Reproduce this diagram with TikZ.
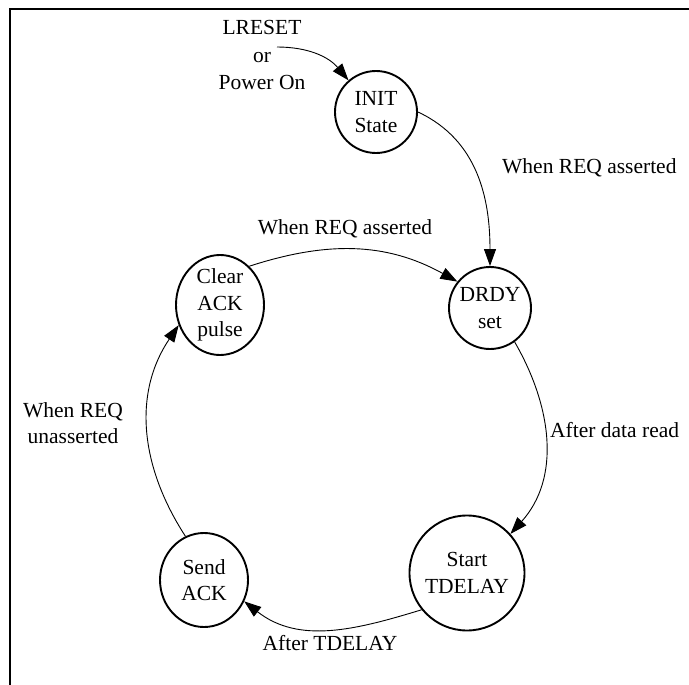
\documentclass[tikz,border=0pt]{standalone}
\usepackage{fontspec}
\setmainfont{Liberation Serif}
\usetikzlibrary{arrows.meta,shapes.geometric}
\begin{document}
\begin{tikzpicture}[x=1pt,y=1pt,
  font=\fontsize{21.5}{26.5}\selectfont,
  state/.style={draw,line width=1.9pt,inner sep=0pt,align=center},
  cstate/.style={state,circle},
  estate/.style={state,ellipse},
  edge/.style={line width=0.9pt,-{Triangle[length=17pt,width=12pt]}},
  lbl/.style={inner sep=0pt,align=center}]
\useasboundingbox (0,0) rectangle (689,-685);
\draw[line width=2.4pt,line join=miter] (10,-685) -- (10,-9) -- (689,-9);

\node[cstate,minimum size=82pt] (init) at (376,-112) {INIT\\State};
\node[cstate,minimum size=82pt] (drdy) at (490,-308) {DRDY\\set};
\node[estate,minimum width=88pt,minimum height=100pt,inner sep=-1pt] (clear) at (220,-305) {Clear\\ACK\\pulse};
\node[estate,minimum width=88pt,minimum height=94pt] (send) at (204,-580) {Send\\ACK};
\node[cstate,minimum size=115pt] (start) at (467,-573) {Start\\TDELAY};

\node[lbl,font=\fontsize{21.5}{27.5}\selectfont] (lrtext) at (262,-55) {LRESET\\or\\Power On};
\node[lbl,anchor=base] (l1) at (345,-234) {When REQ asserted};
\node[lbl,anchor=base west] (l2) at (502,-173) {When REQ asserted};
\node[lbl,anchor=base west] (l3) at (550,-437) {After data read};
\node[lbl,anchor=base] (l4) at (330,-650) {After TDELAY};
\node[lbl] (l5) at (73,-423) {When REQ\\unasserted};

\coordinate (lrs) at (277,-47);
\draw[edge] (lrs) to[out=0,in=130] (init.131);
\draw[edge] (init.0) to[out=-25,in=90] (drdy.north);
\draw[edge] (clear.53) to[out=18,in=151] (drdy.141);
\draw[edge] (drdy.-54) to[out=-60,in=48] (start.42);
\draw[edge] (start.219) to[out=197,in=-38] (send.-28);
\draw[edge] (send.113) to[out=123,in=236] (clear.206);
\end{tikzpicture}
\end{document}
